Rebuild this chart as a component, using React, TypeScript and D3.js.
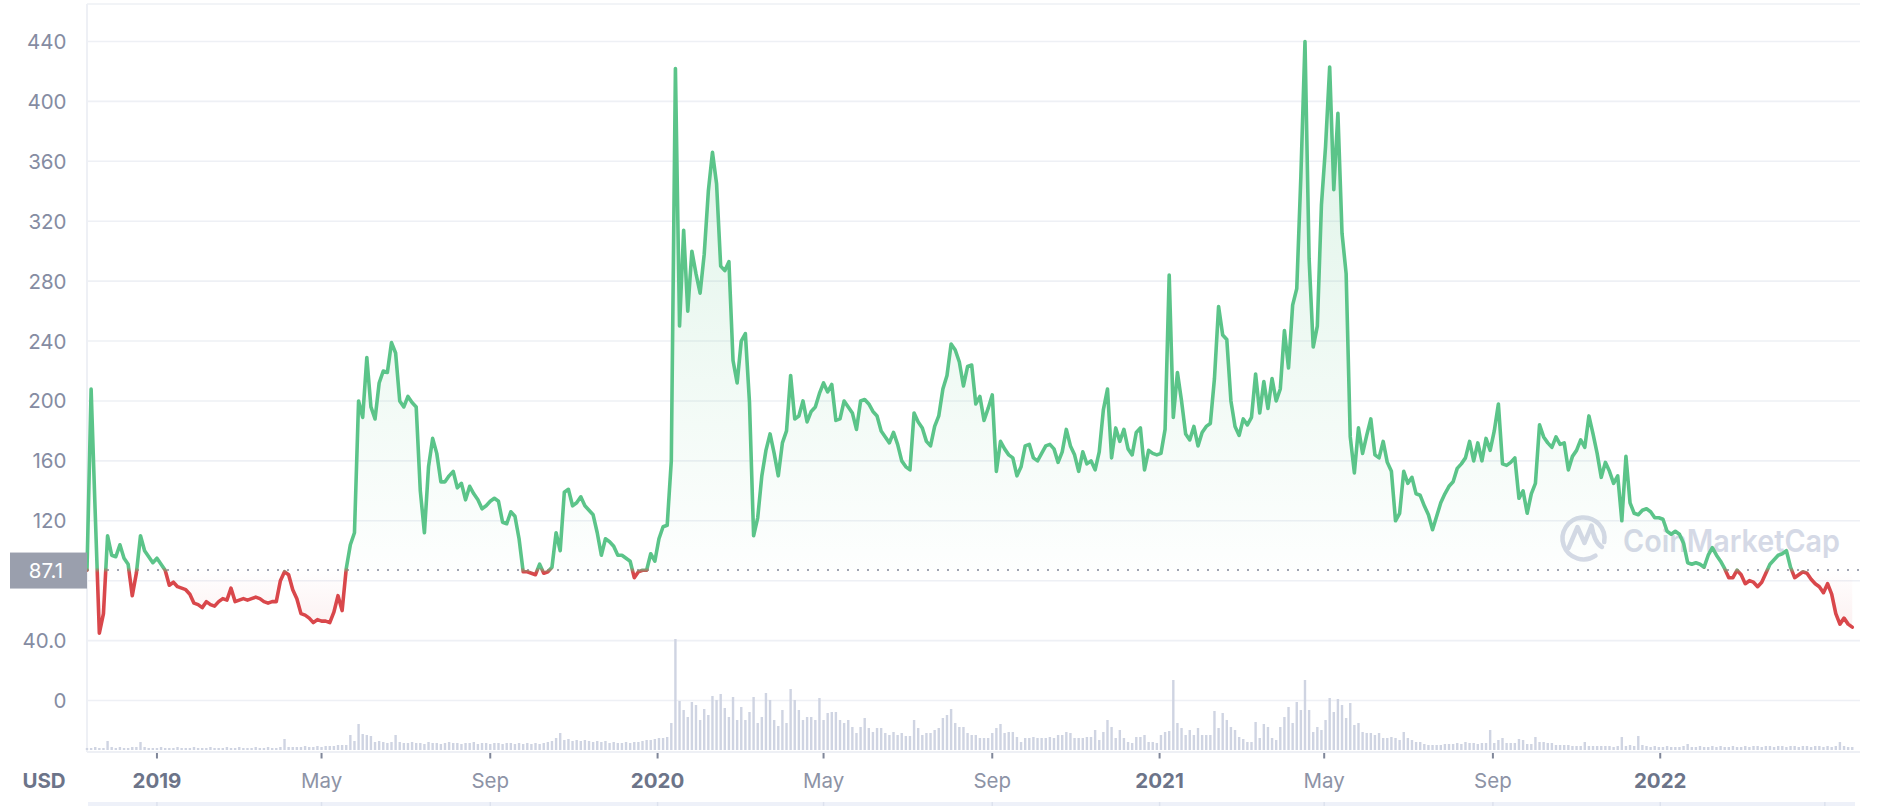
import React from "react";
import * as d3 from "d3";

// ---------- data ----------
const START_DATE = "2018-11-11";
const END_DATE = "2022-05-23";
const STEP_DAYS = 3;
const BASE_PRICE = 87.1;

// price (USD), one sample every 3 days from START_DATE
const prices: number[] = [
  87, 208, 125, 45, 58, 110, 97, 96, 104, 95,
  91, 70, 85, 110, 100, 96, 92, 95, 91, 87,
  77, 79, 76, 75, 74, 71, 65, 64, 62, 66,
  64, 63, 66, 68, 67, 75, 66, 67, 68, 67,
  68, 69, 68, 66, 65, 66, 66, 80, 86, 84,
  74, 68, 58, 57, 55, 52, 54, 53, 53, 52,
  59, 70, 60, 88, 104, 112, 200, 189, 229, 196,
  188, 212, 220, 219, 239, 232, 200, 196, 203, 199,
  196, 140, 112, 156, 175, 165, 146, 146, 150, 153,
  142, 145, 134, 143, 138, 134, 128, 130, 133, 135,
  133, 119, 118, 126, 123, 108, 86, 86, 85, 84,
  91, 85, 86, 89, 112, 100, 139, 141, 130, 132,
  136, 130, 127, 124, 112, 97, 108, 106, 103, 97,
  97, 95, 93, 82, 86, 87, 87, 98, 93, 108,
  116, 117, 160, 422, 250, 314, 260, 300, 285, 272,
  298, 340, 366, 345, 290, 287, 293, 227, 212, 240,
  245, 199, 110, 122, 150, 167, 178, 165, 150, 172,
  180, 217, 188, 190, 200, 186, 193, 196, 205, 212,
  206, 211, 187, 188, 200, 196, 192, 181, 200, 201,
  198, 193, 190, 180, 176, 172, 179, 171, 160, 156,
  154, 192, 186, 182, 173, 170, 183, 190, 208, 217,
  238, 234, 226, 210, 223, 224, 198, 203, 187, 195,
  204, 153, 173, 168, 164, 162, 150, 156, 170, 171,
  162, 160, 165, 170, 171, 168, 159, 166, 181, 170,
  164, 153, 166, 158, 160, 154, 166, 194, 208, 162,
  182, 173, 181, 168, 164, 179, 182, 154, 167, 165,
  164, 165, 181, 284, 189, 219, 200, 178, 174, 183,
  170, 179, 183, 185, 215, 263, 244, 241, 200, 183,
  177, 188, 184, 189, 218, 192, 213, 195, 215, 200,
  208, 247, 222, 264, 275, 350, 440, 295, 236, 250,
  331, 370, 423, 341, 392, 312, 285, 176, 152, 182,
  165, 177, 188, 164, 162, 173, 159, 153, 120, 125,
  153, 145, 149, 138, 137, 130, 124, 114, 123, 132,
  138, 143, 146, 155, 158, 162, 173, 160, 172, 160,
  175, 167, 180, 198, 158, 157, 159, 162, 135, 140,
  125, 138, 145, 184, 176, 172, 169, 176, 171, 172,
  154, 163, 167, 174, 169, 190, 178, 165, 149, 159,
  153, 145, 150, 120, 163, 132, 125, 124, 127, 128,
  126, 122, 122, 121, 113, 111, 113, 111, 105, 92,
  91, 92, 91, 89, 97, 102, 97, 93, 88, 82,
  82, 87, 84, 78, 80, 79, 76, 79, 85, 91,
  94, 97, 98, 100, 89, 82, 84, 86, 85, 81,
  78, 76, 72, 78, 71, 58, 51, 55, 51, 49,
];

// relative trading volume, same sampling
const volumes: number[] = [
  2, 2, 3, 2, 2, 9, 3, 2, 3, 2,
  2, 3, 3, 8, 3, 2, 2, 2, 3, 2,
  2, 2, 3, 2, 2, 2, 3, 2, 2, 2,
  3, 2, 2, 2, 3, 2, 2, 3, 2, 2,
  2, 3, 2, 2, 3, 2, 2, 3, 11, 3,
  3, 3, 3, 4, 3, 3, 4, 3, 4, 4,
  4, 5, 5, 5, 15, 9, 26, 16, 15, 14,
  8, 9, 8, 7, 8, 15, 8, 7, 7, 8,
  7, 7, 6, 8, 7, 7, 6, 7, 8, 7,
  7, 6, 7, 7, 8, 6, 7, 7, 6, 7,
  7, 6, 7, 7, 6, 7, 6, 7, 6, 7,
  6, 7, 8, 9, 12, 17, 10, 11, 9, 10,
  9, 10, 9, 8, 9, 8, 9, 7, 8, 7,
  7, 8, 7, 8, 8, 9, 10, 10, 11, 12,
  12, 13, 27, 111, 49, 40, 33, 48, 45, 30,
  41, 35, 54, 50, 56, 42, 33, 53, 30, 43,
  30, 38, 53, 27, 33, 57, 50, 30, 24, 40,
  27, 61, 50, 40, 30, 33, 33, 30, 52, 30,
  37, 38, 38, 30, 27, 30, 23, 17, 23, 32,
  22, 18, 22, 22, 17, 15, 18, 15, 17, 14,
  14, 30, 22, 15, 17, 17, 20, 22, 32, 35,
  41, 27, 23, 23, 17, 15, 15, 12, 12, 12,
  17, 22, 26, 17, 18, 18, 13, 8, 12, 12,
  13, 12, 12, 12, 13, 12, 15, 15, 18, 17,
  12, 12, 12, 13, 13, 20, 10, 18, 30, 23,
  12, 20, 12, 8, 7, 13, 13, 15, 8, 8,
  7, 15, 18, 19, 70, 27, 22, 15, 20, 15,
  22, 15, 15, 15, 39, 22, 37, 30, 23, 20,
  13, 11, 8, 8, 28, 12, 26, 23, 12, 10,
  23, 33, 43, 27, 48, 40, 70, 40, 18, 23,
  20, 30, 52, 38, 51, 45, 32, 47, 25, 27,
  18, 17, 17, 15, 17, 12, 12, 13, 12, 10,
  18, 12, 10, 8, 8, 6, 5, 5, 5, 5,
  6, 6, 6, 7, 6, 8, 7, 7, 6, 7,
  7, 20, 7, 10, 12, 7, 7, 7, 11, 10,
  6, 6, 13, 8, 8, 7, 7, 5, 5, 5,
  5, 4, 4, 4, 8, 4, 4, 4, 4, 4,
  4, 3, 4, 13, 4, 5, 4, 14, 5, 4,
  3, 4, 3, 3, 4, 3, 3, 3, 4, 6,
  3, 3, 4, 3, 3, 4, 3, 4, 3, 3,
  4, 3, 3, 4, 3, 4, 4, 3, 4, 4,
  3, 4, 4, 3, 4, 4, 3, 4, 4, 3,
  4, 4, 3, 4, 3, 4, 8, 4, 3, 3,
];
const VOLUME_MAX = 111;

const yTicks: number[] = [0, 40, 80, 120, 160, 200, 240, 280, 320, 360, 400, 440];
const yTickLabels: string[] = ["0", "40.0", "80", "120", "160", "200", "240", "280", "320", "360", "400", "440"];

const xTickDates: string[] = [
  "2019-01-01", "2019-05-01", "2019-09-01", "2020-01-01", "2020-05-01",
  "2020-09-01", "2021-01-01", "2021-05-01", "2021-09-01", "2022-01-01",
];
const xTickLabels: string[] = ["2019", "May", "Sep", "2020", "May", "Sep", "2021", "May", "Sep", "2022"];
const navTickDates: string[] = [...xTickDates, "2022-05-01"];

// ---------- chart ----------
const W = 1888;
const H = 806;
const PLOT_L = 87;
const PLOT_R = 1860;
const PLOT_T = 4;
const AXIS_Y = 752;
const GREEN = "#5bc489";
const RED = "#d9474b";
const GRID = "#eef0f5";
const FONT = "Inter, 'Noto Sans', 'DejaVu Sans', sans-serif";

const parse = d3.utcParse("%Y-%m-%d");

export default function App() {
  const start = parse(START_DATE) as Date;
  const end = parse(END_DATE) as Date;
  const x = d3.scaleUtc().domain([start, end]).range([87, 1855]);
  const y = d3.scaleLinear().domain([0, 440]).range([700.5, 41.5]);
  const yv = d3.scaleLinear().domain([0, VOLUME_MAX]).range([750, 639]);

  const data = prices.map((p, i) => ({
    date: d3.utcDay.offset(start, i * STEP_DAYS),
    price: p,
    vol: volumes[i] ?? 0,
  }));

  const yBase = y(BASE_PRICE);
  const gTop = y(440);
  const gBot = y(0);
  const f = (yBase - gTop) / (gBot - gTop);

  const line = d3
    .line<(typeof data)[number]>()
    .x((d) => x(d.date))
    .y((d) => y(d.price))
    .curve(d3.curveLinear);
  const area = d3
    .area<(typeof data)[number]>()
    .x((d) => x(d.date))
    .y0(yBase)
    .y1((d) => y(d.price))
    .curve(d3.curveLinear);

  const barW = 2.4;

  return (
    <div style={{ position: "absolute", left: 0, top: 0, width: W, height: H, background: "#fff" }}>
      <svg width={W} height={H} style={{ display: "block", fontFamily: FONT }}>
        <defs>
          <linearGradient id="lineGrad" gradientUnits="userSpaceOnUse" x1={0} y1={gTop} x2={0} y2={gBot}>
            <stop offset={0} stopColor={GREEN} />
            <stop offset={f - 0.004} stopColor={GREEN} />
            <stop offset={f + 0.004} stopColor={RED} />
            <stop offset={1} stopColor={RED} />
          </linearGradient>
          <linearGradient id="fillGrad" gradientUnits="userSpaceOnUse" x1={0} y1={gTop} x2={0} y2={gBot}>
            <stop offset={0} stopColor={GREEN} stopOpacity={0.22} />
            <stop offset={f} stopColor={GREEN} stopOpacity={0.01} />
            <stop offset={f} stopColor={RED} stopOpacity={0.0} />
            <stop offset={1} stopColor={RED} stopOpacity={0.18} />
          </linearGradient>
        </defs>

        {/* frame + grid */}
        <line x1={PLOT_L} x2={PLOT_R} y1={PLOT_T} y2={PLOT_T} stroke={GRID} strokeWidth={1.5} />
        <line x1={PLOT_L} x2={PLOT_L} y1={PLOT_T} y2={AXIS_Y} stroke={GRID} strokeWidth={2} />
        {yTicks.map((t) => (
          <line key={"g" + t} x1={PLOT_L} x2={PLOT_R} y1={y(t)} y2={y(t)} stroke={GRID} strokeWidth={1.6} />
        ))}

        {/* y labels */}
        {yTicks.map((t, i) =>
          Math.abs(y(t) - yBase) < 20 ? null : (
            <text
              key={"yl" + t}
              x={66.5}
              y={y(t)}
              textAnchor="end"
              dominantBaseline="central"
              fontSize={20.5}
              fill="#858ca2"
            >
              {yTickLabels[i]}
            </text>
          )
        )}

        {/* volume bars */}
        {data.map((d, i) => (
          <rect
            key={"v" + i}
            x={x(d.date) - barW / 2}
            y={yv(d.vol)}
            width={barW}
            height={750 - yv(d.vol)}
            fill="#cfd4e2"
          />
        ))}

        {/* watermark */}
        <g opacity={0.95}>
          <path
            d="M 1595.5 555.7 A 21 21 0 1 1 1604.2 542.1"
            fill="none"
            stroke="#d3d8e5"
            strokeWidth={4.5}
            strokeLinecap="round"
          />
          <path
            d="M 1568.5 548 L 1577.5 527 L 1584.5 543 L 1591.5 525.5 Q 1594.5 543 1602 547"
            fill="none"
            stroke="#d3d8e5"
            strokeWidth={4.5}
            strokeLinecap="round"
            strokeLinejoin="round"
          />
          <text x={1623} y={552} fontSize={31} fontWeight={600} fill="#d3d8e5" textLength={217} lengthAdjust="spacingAndGlyphs">
            CoinMarketCap
          </text>
        </g>

        {/* area + line */}
        <path d={area(data) ?? ""} fill="url(#fillGrad)" />
        <line x1={PLOT_L} x2={PLOT_R} y1={yBase} y2={yBase} stroke="#a0a5b2" strokeWidth={2} strokeDasharray="2 8" />
        <path
          d={line(data) ?? ""}
          fill="none"
          stroke="url(#lineGrad)"
          strokeWidth={3.6}
          strokeLinejoin="round"
          strokeLinecap="round"
        />

        {/* current price tag */}
        <rect x={10} y={yBase - 17.5} width={77} height={36} fill="#9a9fad" />
        <text x={63} y={yBase + 0.5} textAnchor="end" dominantBaseline="central" fontSize={20.5} fill="#ffffff">
          {String(BASE_PRICE)}
        </text>

        {/* x axis */}
        <line x1={PLOT_L} x2={PLOT_R} y1={AXIS_Y} y2={AXIS_Y} stroke={GRID} strokeWidth={2} />
        {xTickDates.map((ds, i) => {
          const d = parse(ds) as Date;
          const px = x(d);
          const isYear = d.getUTCMonth() === 0;
          return (
            <g key={"xt" + ds}>
              <line x1={px} x2={px} y1={753} y2={758.5} stroke="#7f8699" strokeWidth={2} />
              <text
                x={px}
                y={780}
                textAnchor="middle"
                dominantBaseline="central"
                fontSize={20.5}
                fontWeight={isYear ? 700 : 400}
                fill={isYear ? "#6c7489" : "#8d93a6"}
              >
                {xTickLabels[i]}
              </text>
            </g>
          );
        })}
        <text x={44} y={780} textAnchor="middle" dominantBaseline="central" fontSize={20.5} fontWeight={700} fill="#6c7489">
          USD
        </text>

        {/* navigator strip */}
        <rect x={88} y={802} width={1767} height={10} fill="#eef1f9" />
        {navTickDates.map((ds) => {
          const px = x(parse(ds) as Date);
          return <line key={"nv" + ds} x1={px} x2={px} y1={802} y2={806} stroke="#dde2ee" strokeWidth={1.5} />;
        })}
      </svg>
    </div>
  );
}
